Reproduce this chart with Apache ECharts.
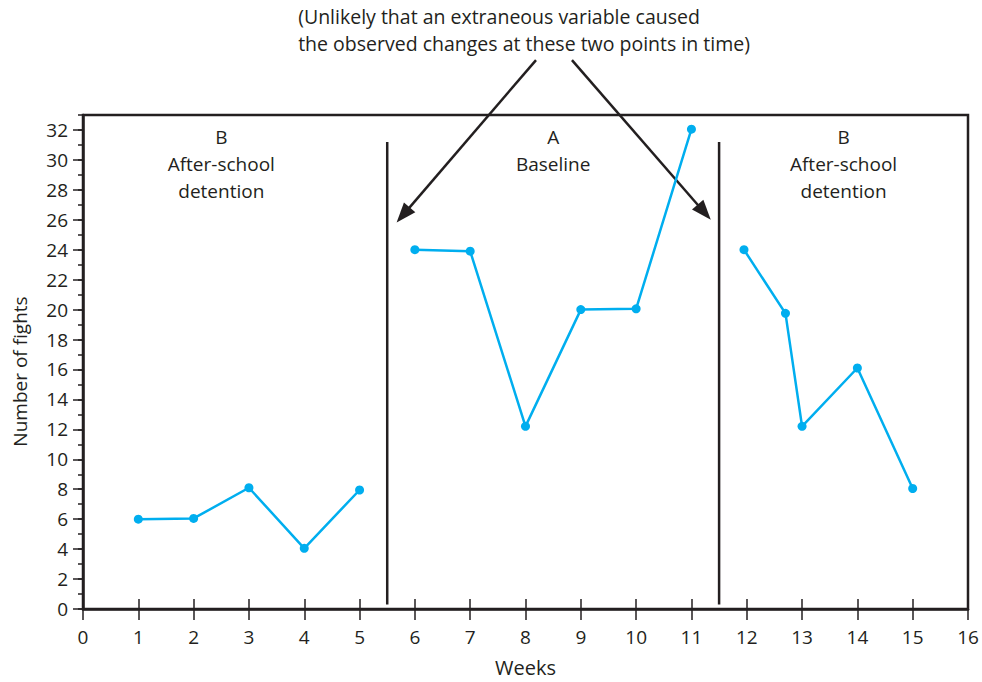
<!DOCTYPE html>
<html>
<head>
<meta charset="utf-8">
<script src="https://cdn.jsdelivr.net/npm/echarts@6/dist/echarts.min.js"></script>
<style>html,body{margin:0;padding:0;background:#fff}#c{width:982px;height:682px}</style>
</head>
<body>
<div id="c"></div>
<script>
// Phase B (first): after-school detention
const weeksB1 = [1, 2, 3, 4, 5];
const fightsB1 = [6, 6.05, 8.1, 4.05, 7.95];
// Phase A: baseline
const weeksA = [6, 7, 8, 9, 10, 11];
const fightsA = [24, 23.9, 12.2, 20, 20.05, 32.05];
// Phase B (second): after-school detention
const weeksB2 = [11.95, 12.7, 13, 14, 15];
const fightsB2 = [24, 19.75, 12.2, 16.1, 8.05];
// Phase change lines
const phaseChanges = [5.5, 11.5];
const phaseLineRange = [0.3, 31.2];
// Tick labels
const yTickValues = [0,2,4,6,8,10,12,14,16,18,20,22,24,26,28,30,32];
const xTickValues = [0,1,2,3,4,5,6,7,8,9,10,11,12,13,14,15,16];
// Phase titles
const phaseTitles = [
  {x: 2.5, lines: ['B', 'After-school', 'detention']},
  {x: 8.5, lines: ['A', 'Baseline']},
  {x: 13.75, lines: ['B', 'After-school', 'detention']}
];
const annotation = ['(Unlikely that an extraneous variable caused', 'the observed changes at these two points in time)'];

const INK = '#231f20';
const BLUE = '#00aeef';
const FONT = '"Open Sans", "Noto Sans", sans-serif';

function pairs(xs, ys) { return xs.map((x, i) => [x, ys[i]]); }

const chart = echarts.init(document.getElementById('c'), null, {renderer: 'svg'});

const lineSeries = (xs, ys) => ({
  type: 'line', data: pairs(xs, ys), xAxisIndex: 0, yAxisIndex: 0,
  symbol: 'circle', symbolSize: 9, showSymbol: true,
  lineStyle: {color: BLUE, width: 2.5}, itemStyle: {color: BLUE},
  emphasis: {disabled: true}, animation: false, z: 5
});

const option = {
  animation: false,
  grid: {left: 83, right: 14, top: 115, bottom: 72, show: true, borderColor: INK, borderWidth: 2.5, backgroundColor: 'transparent'},
  xAxis: [
    {
      type: 'value', min: 0, max: 16, interval: 1,
      name: 'Weeks', nameLocation: 'middle', nameGap: 48,
      nameTextStyle: {fontFamily: FONT, fontSize: 20, color: INK},
      axisLine: {show: true, lineStyle: {color: INK, width: 2.5}},
      axisTick: {show: true, length: 11, lineStyle: {color: INK, width: 1.5}},
      axisLabel: {fontFamily: FONT, fontSize: 19, color: INK, margin: 18},
      splitLine: {show: false}
    },
    {
      type: 'value', min: 0, max: 16, interval: 1, position: 'bottom',
      axisLine: {show: false},
      axisTick: {show: true, inside: true, length: 10, lineStyle: {color: INK, width: 1.5}},
      axisLabel: {show: false}, splitLine: {show: false}
    }
  ],
  yAxis: [
    {
      type: 'value', min: 0, max: 33, interval: 1, position: 'left',
      axisLine: {show: true, lineStyle: {color: INK, width: 2.5}},
      axisTick: {show: true, length: 5, lineStyle: {color: INK, width: 1.5}},
      axisLabel: {
        fontFamily: FONT, fontSize: 19, color: INK, margin: 15,
        formatter: v => (yTickValues.indexOf(v) >= 0 ? String(v) : '')
      },
      splitLine: {show: false}
    },
    {
      type: 'value', min: 0, max: 33, interval: 2, position: 'left',
      axisLine: {show: false},
      axisTick: {show: true, length: 10, customValues: yTickValues, lineStyle: {color: INK, width: 1.5}},
      axisLabel: {show: false}, splitLine: {show: false}
    }
  ],
  series: [
    lineSeries(weeksB1, fightsB1),
    lineSeries(weeksA, fightsA),
    lineSeries(weeksB2, fightsB2),
    ...phaseChanges.map(x => ({
      type: 'line', data: [[x, phaseLineRange[0]], [x, phaseLineRange[1]]],
      symbol: 'none', lineStyle: {color: INK, width: 2.5}, emphasis: {disabled: true}, z: 4
    }))
  ]
};
chart.setOption(option);

// Annotations positioned through the chart's own scales
const px = (x, y) => chart.convertToPixel({xAxisIndex: 0, yAxisIndex: 0}, [x, y]);
const graphics = [];
phaseTitles.forEach(t => {
  const p = px(t.x, 31.5);
  t.lines.forEach((ln, i) => {
    graphics.push({type: 'text', x: p[0], y: p[1] + i * 27, style: {text: ln, fontFamily: FONT, fontSize: 19, fill: INK, textAlign: 'center', textVerticalAlign: 'middle'}});
  });
});
const ap = px(3.89, 39.6);
annotation.forEach((ln, i) => {
  graphics.push({type: 'text', x: ap[0], y: ap[1] + i * 27, style: {text: ln, fontFamily: FONT, fontSize: 19.5, fill: INK, textAlign: 'left', textVerticalAlign: 'middle'}});
});
function arrow(from, to) {
  const a = px(from[0], from[1]), b = px(to[0], to[1]);
  const dx = b[0] - a[0], dy = b[1] - a[1], L = Math.hypot(dx, dy);
  const ux = dx / L, uy = dy / L, hl = 20, hw = 7.5;
  const base = [b[0] - ux * hl, b[1] - uy * hl];
  graphics.push({type: 'line', shape: {x1: a[0], y1: a[1], x2: base[0] + ux * 2, y2: base[1] + uy * 2}, style: {stroke: INK, lineWidth: 2.5}});
  graphics.push({type: 'polygon', shape: {points: [b, [base[0] - uy * hw, base[1] + ux * hw], [base[0] + uy * hw, base[1] - ux * hw]]}, style: {fill: INK}});
}
arrow([8.19, 36.67], [5.67, 25.82]);
arrow([8.84, 36.67], [11.35, 26.0]);
const yn = px(0, 16);
graphics.push({type: 'text', x: 20, y: yn[1] + 2, rotation: Math.PI / 2, style: {text: 'Number of fights', fontFamily: FONT, fontSize: 19, fill: INK, textAlign: 'center', textVerticalAlign: 'middle'}});
chart.setOption({graphic: graphics});
</script>
</body>
</html>
